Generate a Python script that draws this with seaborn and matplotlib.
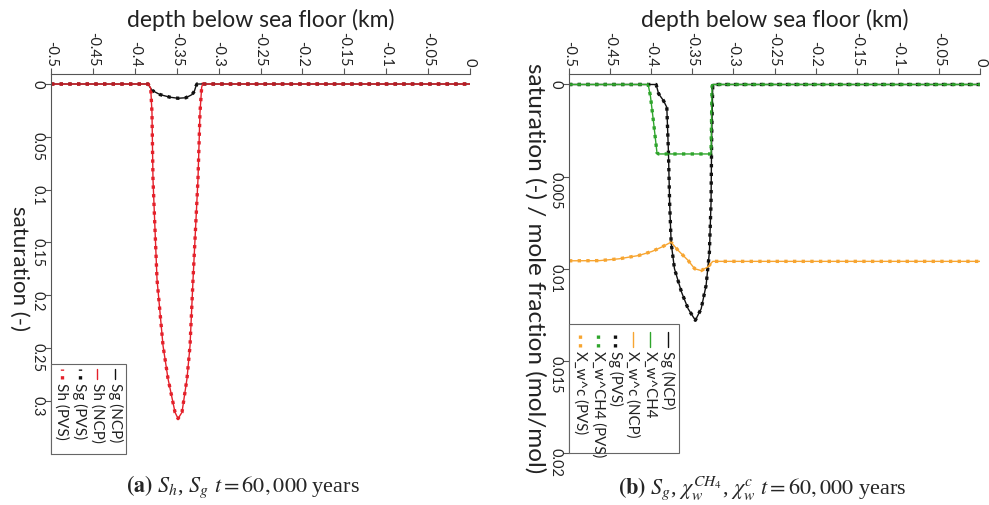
import numpy as np
import pandas as pd
import seaborn as sns
import matplotlib.pyplot as plt
from matplotlib.lines import Line2D
from matplotlib.patches import Rectangle
from matplotlib.ticker import FormatStrFormatter

# ---- panel (a): saturation profiles ----
depth_sh = [-0.5, -0.45, -0.4, -0.384, -0.381, -0.3795, -0.3783, -0.3735, -0.3663, -0.3604,
            -0.352, -0.3484, -0.3437, -0.3377, -0.3341, -0.3305, -0.3246, -0.3222, -0.3202,
            -0.319, -0.25, -0.15, -0.05, 0.0]
sh = [0, 0, 0, 0, 0.004, 0.027, 0.090, 0.185, 0.248, 0.279,
      0.311, 0.317, 0.311, 0.279, 0.248, 0.185, 0.090, 0.027, 0.003,
      0, 0, 0, 0, 0]

depth_sg_a = [-0.5, -0.45, -0.4, -0.3842, -0.3795, -0.37, -0.358, -0.3484, -0.339, -0.3317,
              -0.329, -0.327, -0.3258, -0.25, -0.15, -0.05, 0.0]
sg_a = [0, 0, 0, 0, 0.006, 0.010, 0.0125, 0.0135, 0.013, 0.010,
        0.007, 0.002, 0, 0, 0, 0, 0]

# ---- panel (b): gas saturation and mole fractions ----
depth_sg_b = [-0.5, -0.45, -0.394, -0.391, -0.385, -0.381, -0.379, -0.3776, -0.3757, -0.3717,
              -0.3631, -0.3551, -0.3463, -0.3392, -0.3332, -0.3292, -0.3272, -0.3264, -0.3251,
              -0.25, -0.15, -0.05, 0.0]
sg_b = [0, 0, 0, 0.0005, 0.00088, 0.00124, 0.0037, 0.0064, 0.0086, 0.0100,
        0.01127, 0.01217, 0.0128, 0.01217, 0.0109, 0.0091, 0.0064, 0.0028, 0,
        0, 0, 0, 0]

depth_ch4 = [-0.5, -0.45, -0.4038, -0.401, -0.397, -0.393, -0.391, -0.36, -0.3272, -0.326,
             -0.3251, -0.25, -0.15, -0.05, 0.0]
x_ch4 = [0, 0, 0, 0.0006, 0.0021, 0.0037, 0.00377, 0.00377, 0.00377, 0.0001,
         0, 0, 0, 0, 0]

depth_c = [-0.5, -0.4629, -0.4389, -0.415, -0.399, -0.387, -0.3759, -0.3671, -0.3551, -0.3471,
           -0.3392, -0.3311, -0.3251, -0.25, -0.15, -0.05, 0.0]
x_c = [0.00957, 0.00956, 0.00946, 0.00928, 0.00906, 0.00882, 0.00856, 0.00901, 0.00955, 0.0100,
       0.0101, 0.0099, 0.0096, 0.0096, 0.0096, 0.0096, 0.0096]

depth_ticks = [-0.5, -0.45, -0.4, -0.35, -0.3, -0.25, -0.2, -0.15, -0.1, -0.05, 0.0]
sat_ticks_a = [0, 0.05, 0.1, 0.15, 0.2, 0.25, 0.3]
sat_ticks_b = [0, 0.005, 0.01, 0.015, 0.02]

RED = '#e4202a'
GREEN = '#2fa52c'
ORANGE = '#f7a531'
BLACK = '#111111'

sns.set_theme(style='white')
plt.rcParams['font.family'] = ['Lato', 'DejaVu Sans']
plt.rcParams['mathtext.fontset'] = 'stix'

fig = plt.figure(figsize=(9.89, 5.06), dpi=100)
ax_a = fig.add_axes([51 / 989, 0.1008, 419 / 989, 0.751])
ax_b = fig.add_axes([569 / 989, 0.1028, 411 / 989, 0.749])


def draw(ax, depth, vals, color, dotted):
    df = pd.DataFrame({'depth': depth, 'val': vals})
    if dotted:
        sns.lineplot(data=df, x='depth', y='val', ax=ax, color=color, lw=2.4,
                     linestyle=(0, (1, 1.6)), estimator=None, sort=False)
    else:
        sns.lineplot(data=df, x='depth', y='val', ax=ax, color=color, lw=1.0,
                     estimator=None, sort=False)


def style_axes(ax, yticks, ylim, ylabel, ylab_x, ylab_size):
    ax.set_xlim(-0.5, 0.0)
    ax.set_ylim(ylim[1], ylim[0])
    ax.xaxis.tick_top()
    ax.xaxis.set_label_position('top')
    ax.set_xticks(depth_ticks)
    ax.set_yticks(yticks)
    ax.xaxis.set_major_formatter(FormatStrFormatter('%g'))
    ax.yaxis.set_major_formatter(FormatStrFormatter('%g'))
    ax.tick_params(axis='x', top=True, bottom=False, labelrotation=-90, length=4,
                   width=0.8, color='#555555', labelsize=10.5, pad=2, labelcolor='#222222')
    ax.tick_params(axis='y', left=True, labelrotation=-90, length=4, width=0.8,
                   color='#555555', labelsize=10.5, pad=1, labelcolor='#222222')
    for s in ['right', 'bottom']:
        ax.spines[s].set_visible(False)
    for s in ['top', 'left']:
        ax.spines[s].set_color('#555555')
        ax.spines[s].set_linewidth(0.8)
    ax.set_xlabel('depth below sea floor (km)', fontsize=16.5, color='#222222')
    ax.xaxis.label.set_va('center')
    ax.xaxis.set_label_coords(0.5, 1.145)
    ax.set_ylabel(ylabel, fontsize=ylab_size, rotation=-90, color='#222222', va='center', ha='center')
    ax.yaxis.set_label_coords(ylab_x, 0.49)
    ax.patch.set_alpha(0)


def rotated_legend(ax, entries, box_w, box_h, xs, h_top, h_bot, t_top, size):
    ax.add_patch(Rectangle((0, 0), box_w, box_h, transform=ax.transAxes, facecolor='white',
                           edgecolor='#666666', lw=0.8, zorder=5, clip_on=False))
    for (label, color, dotted), x in zip(entries, xs):
        if dotted:
            ln = Line2D([x, x], [h_bot, h_top], color=color, lw=2.4, linestyle=(0, (1, 1.6)))
        else:
            ln = Line2D([x, x], [h_bot, h_top], color=color, lw=1.0)
        ln.set_transform(ax.transAxes)
        ln.set_zorder(6)
        ln.set_clip_on(False)
        ax.add_line(ln)
        ax.text(x, t_top, label, transform=ax.transAxes, rotation=-90, ha='center', va='top',
                fontsize=size, color='#222222', zorder=6)


# panel (a)
draw(ax_a, depth_sg_a, sg_a, BLACK, True)
draw(ax_a, depth_sh, sh, RED, True)
draw(ax_a, depth_sg_a, sg_a, BLACK, False)
draw(ax_a, depth_sh, sh, RED, False)
style_axes(ax_a, sat_ticks_a, (-0.0095, 0.3505), 'saturation (-)', -0.076, 16)
rotated_legend(ax_a,
               [('Sg (NCP)', BLACK, False), ('Sh (NCP)', RED, False),
                ('Sg (PVS)', BLACK, True), ('Sh (PVS)', RED, True)],
               0.179, 0.237, [0.153, 0.110, 0.069, 0.026], 0.224, 0.197, 0.189, 11)

# panel (b)
draw(ax_b, depth_sg_b, sg_b, BLACK, True)
draw(ax_b, depth_ch4, x_ch4, GREEN, True)
draw(ax_b, depth_c, x_c, ORANGE, True)
draw(ax_b, depth_sg_b, sg_b, BLACK, False)
draw(ax_b, depth_ch4, x_ch4, GREEN, False)
draw(ax_b, depth_c, x_c, ORANGE, False)
style_axes(ax_b, sat_ticks_b, (-0.00057, 0.02), 'saturation (-) / mole fraction (mol/mol)',
           -0.0825, 17.5)
rotated_legend(ax_b,
               [('Sg (NCP)', BLACK, False), ('X_w^CH4', GREEN, False),
                ('X_w^c (NCP)', ORANGE, False), ('Sg (PVS)', BLACK, True),
                ('X_w^CH4 (PVS)', GREEN, True), ('X_w^c (PVS)', ORANGE, True)],
               0.268, 0.340, [0.240, 0.197, 0.155, 0.112, 0.071, 0.027], 0.319, 0.280, 0.272, 10.8)

# captions
cap_kw = dict(ha='center', va='center', fontsize=16, family=['Liberation Serif', 'DejaVu Serif'])
fig.text(243 / 989, 1 - 487 / 506,
         r'$\mathbf{(a)}$ $S_h$, $S_g$ $t = 60,000$ years', **cap_kw)
fig.text(762 / 989, 1 - 488 / 506,
         r'$\mathbf{(b)}$ $S_g$, $\chi_w^{CH_4}$, $\chi_w^{c}$ $t = 60,000$ years', **cap_kw)

fig.savefig('out.png', dpi=100)
